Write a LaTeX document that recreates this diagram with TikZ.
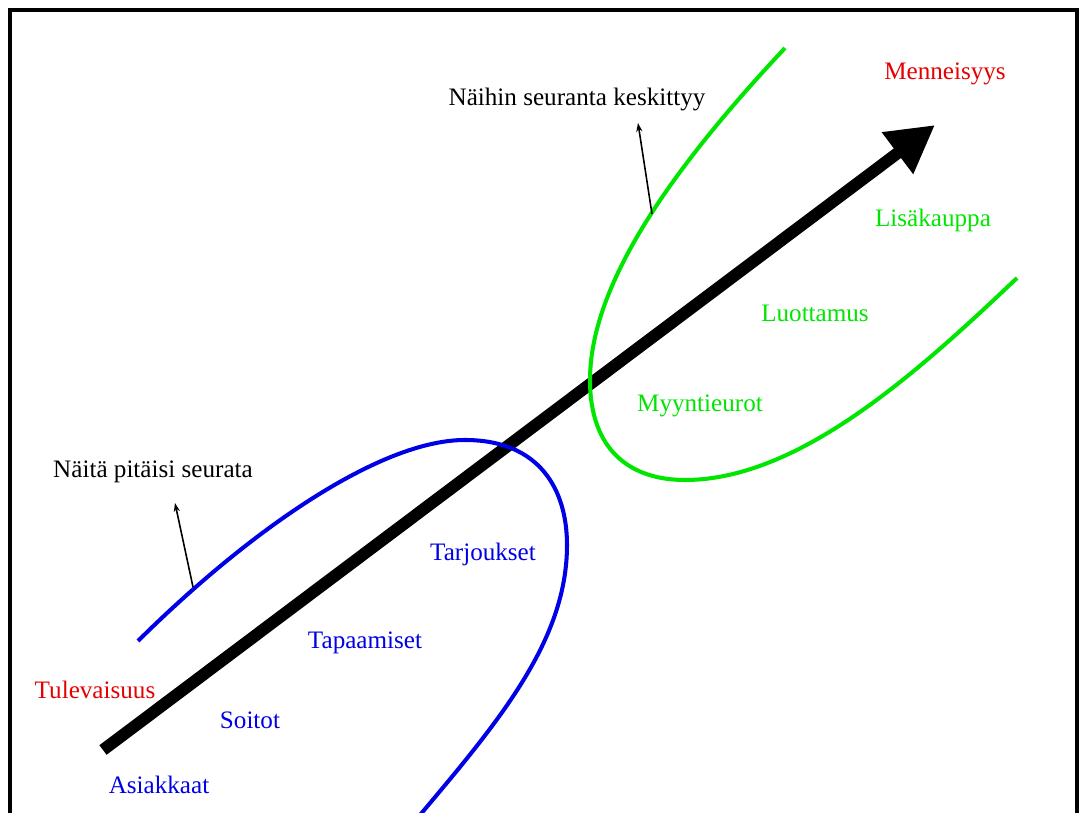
\documentclass[tikz,border=0pt]{standalone}
\usepackage{fontspec}
\setmainfont{Liberation Serif}
\usetikzlibrary{arrows.meta}
\definecolor{curveblue}{RGB}{0, 0, 230}
\definecolor{curvegreen}{RGB}{0, 230, 0}
\definecolor{timered}{RGB}{230, 0, 0}

\begin{document}
\begin{tikzpicture}[
  x=0.02cm, y=-0.02cm,
  lbl/.style={inner sep=0pt, font=\fontsize{14.3}{16}\selectfont},
  past/.style={lbl, text=curvegreen},
  early/.style={lbl, text=curveblue},
  timelbl/.style={lbl, text=timered},
  curve/.style={line width=2.3pt},
  pointer/.style={-{Stealth[length=5pt, width=3.5pt]}, line width=0.9pt},
  timeline/.style={-{Triangle[length=0.94cm, width=0.98cm]}, line width=0.24cm}
]
\useasboundingbox (0,0) rectangle (1079,813);
\draw[line width=2pt] (10,816) -- (10,10) -- (1077,10) -- (1077,816);

% time axis
\coordinate (future) at (103,750);
\coordinate (tip) at (935,125);
\draw[timeline] (future) -- (tip);

% curves
\draw[curve, curveblue] (138,641) .. controls (250,530) and (380,440) .. (465,440)
  .. controls (540,440) and (567,490) .. (567,545)
  .. controls (567,640) and (500,720) .. (420,815);
\draw[curve, curvegreen] (785,48) .. controls (680,160) and (590,280) .. (590,380)
  .. controls (590,450) and (630,480) .. (685,480)
  .. controls (800,480) and (920,370) .. (1017,278);

% labels
\node[timelbl] (menn) at (945,74) {Menneisyys};
\node[timelbl] (tulev) at (95,690) {Tulevaisuus};
\node[lbl] (focus) at (577,100) {Näihin seuranta keskittyy};
\node[lbl] (should) at (153,472) {Näitä pitäisi seurata};
\node[past] (lisa) at (933,220) {Lisäkauppa};
\node[past] (luott) at (815,313) {Luottamus};
\node[past] (myynti) at (700,406) {Myyntieurot};
\node[early] (tarj) at (483,554) {Tarjoukset};
\node[early] (tapaa) at (365,643) {Tapaamiset};
\node[early] (soitot) at (250,720) {Soitot};
\node[early] (asiak) at (159,785) {Asiakkaat};

% pointers
\coordinate (ongreen) at (652,214);
\coordinate (onblue) at (193,587);
\draw[pointer] (ongreen) -- (638,123);
\draw[pointer] (onblue) -- (175,503);
\end{tikzpicture}
\end{document}
